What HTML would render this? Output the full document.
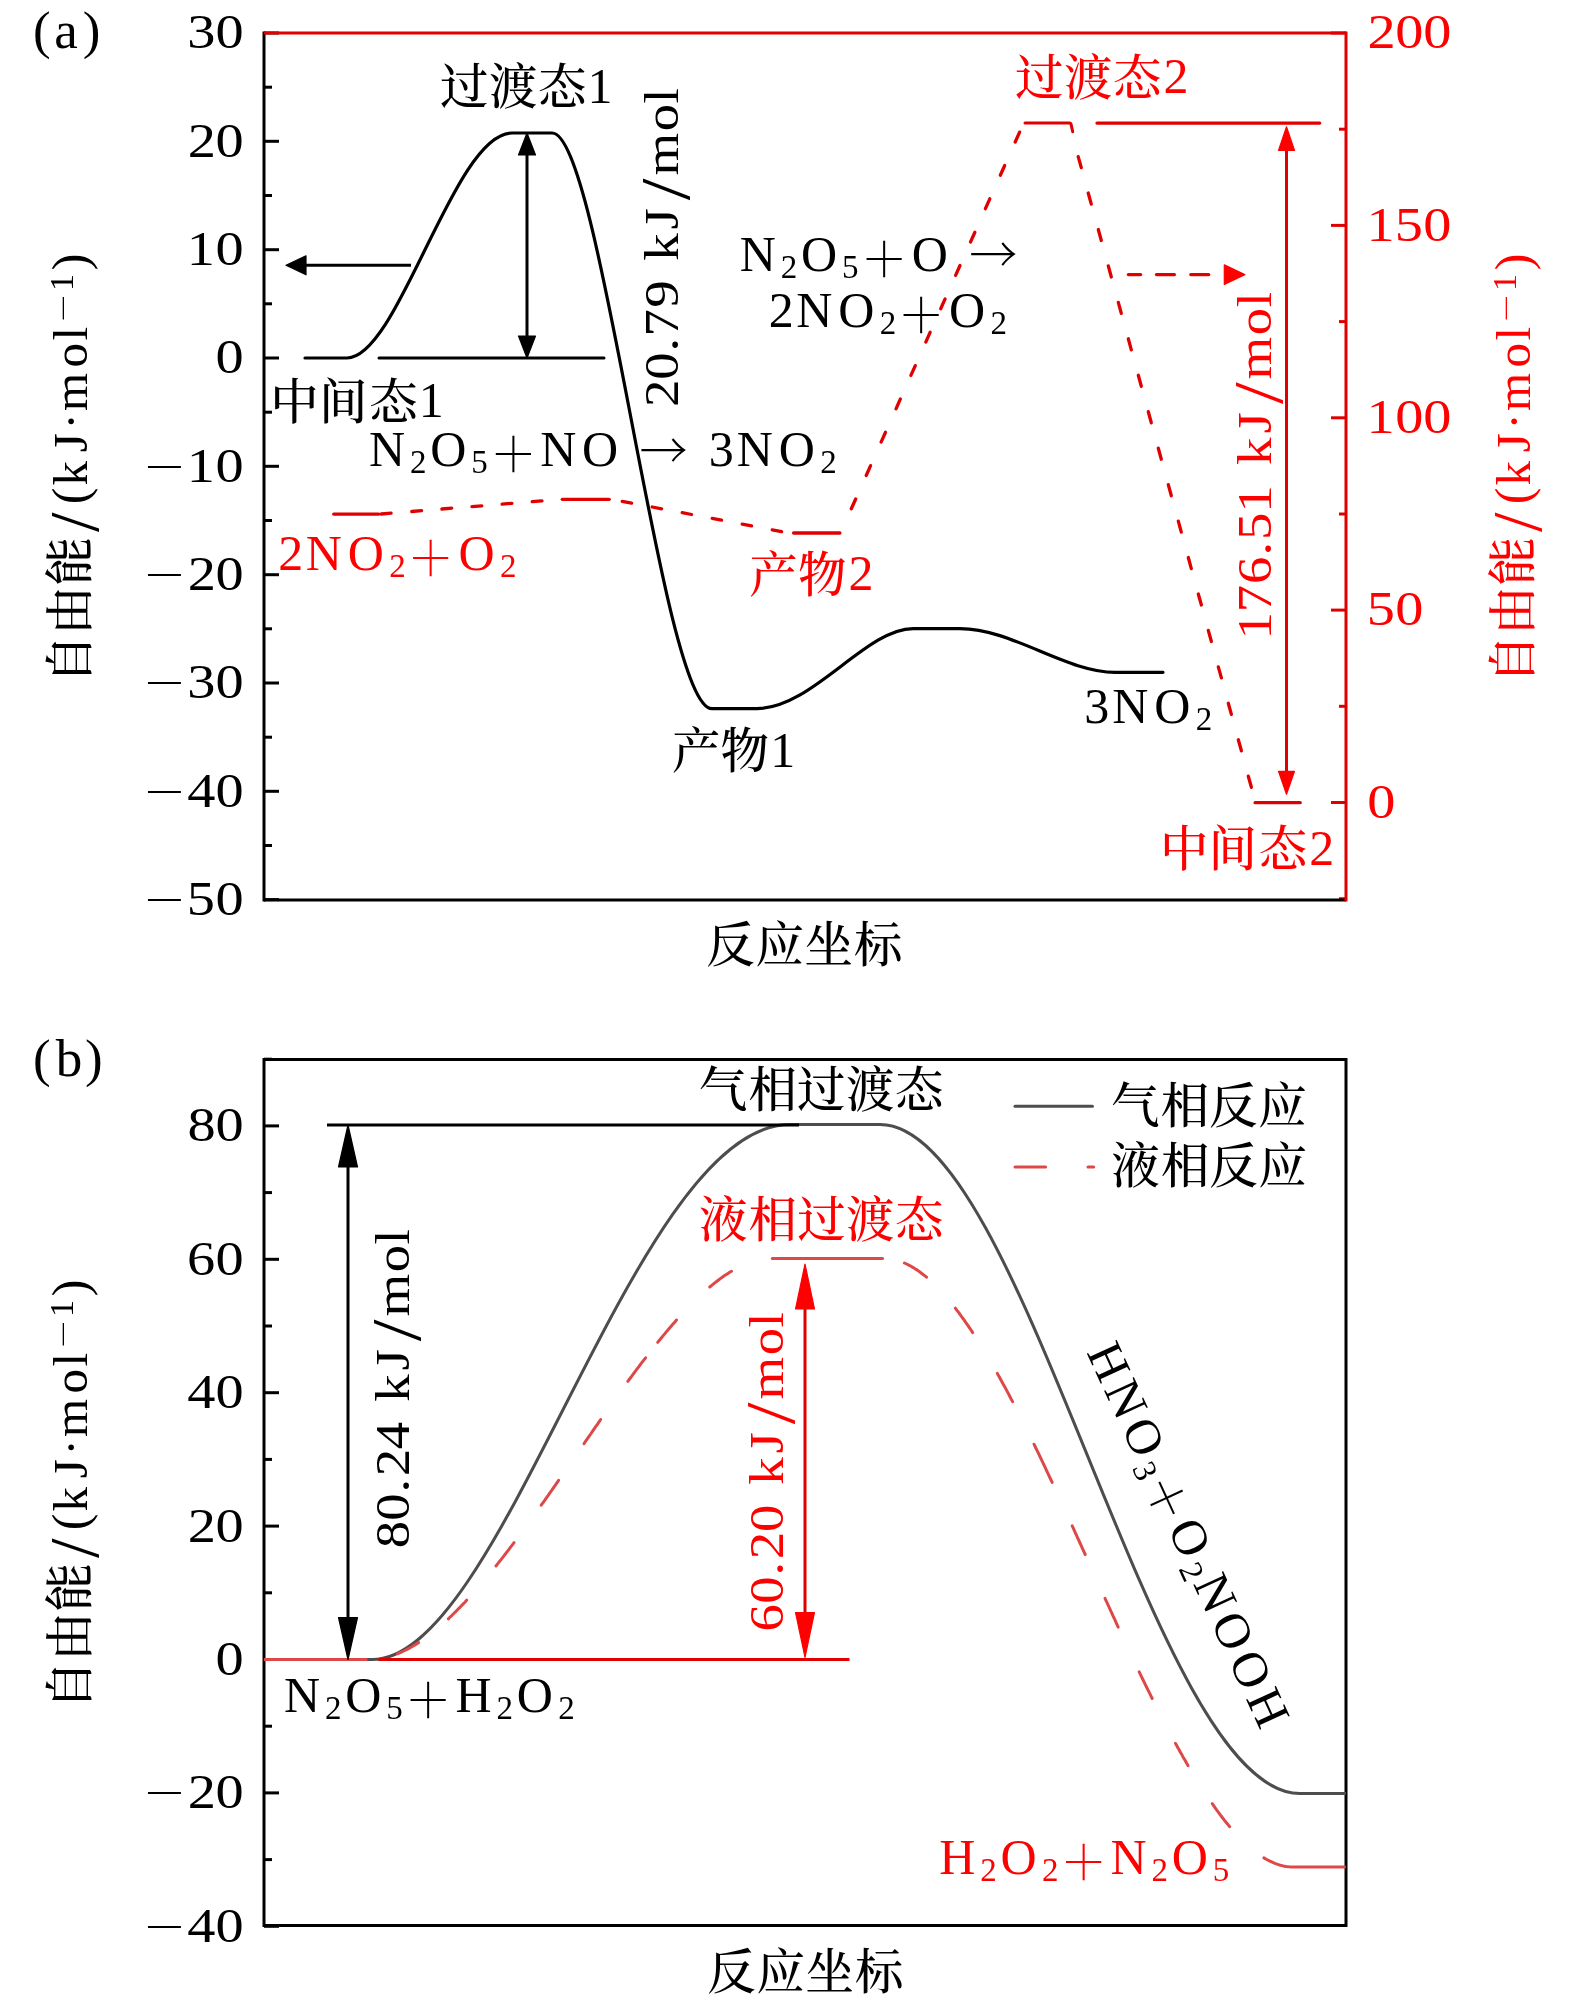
<!DOCTYPE html>
<html><head><meta charset="utf-8"><style>
html,body{margin:0;padding:0;background:#fff;overflow:hidden;}
svg{display:block;will-change:transform;}
</style></head><body>
<svg width="1575" height="2008" viewBox="0 0 1575 2008">
<rect x="0" y="0" width="1575" height="2008" fill="#fff"/>
<line x1="264.0" y1="33.0" x2="279.0" y2="33.0" stroke="#000" stroke-width="3" />
<line x1="264.0" y1="87.2" x2="272.0" y2="87.2" stroke="#000" stroke-width="3" />
<text fill="#000" font-family="'Liberation Serif', 'Noto Serif CJK SC', serif" transform="scale(1.15,1)"><tspan x="162.8" y="48.4" font-size="49">3</tspan><tspan x="187.3" y="48.4" font-size="49">0</tspan></text>
<line x1="264.0" y1="141.3" x2="279.0" y2="141.3" stroke="#000" stroke-width="3" />
<line x1="264.0" y1="195.5" x2="272.0" y2="195.5" stroke="#000" stroke-width="3" />
<text fill="#000" font-family="'Liberation Serif', 'Noto Serif CJK SC', serif" transform="scale(1.15,1)"><tspan x="163.2" y="156.7" font-size="49">2</tspan><tspan x="187.3" y="156.7" font-size="49">0</tspan></text>
<line x1="264.0" y1="249.7" x2="279.0" y2="249.7" stroke="#000" stroke-width="3" />
<line x1="264.0" y1="303.8" x2="272.0" y2="303.8" stroke="#000" stroke-width="3" />
<text fill="#000" font-family="'Liberation Serif', 'Noto Serif CJK SC', serif" transform="scale(1.15,1)"><tspan x="162.3" y="265.1" font-size="49">1</tspan><tspan x="187.3" y="265.1" font-size="49">0</tspan></text>
<line x1="264.0" y1="358.0" x2="279.0" y2="358.0" stroke="#000" stroke-width="3" />
<line x1="264.0" y1="412.2" x2="272.0" y2="412.2" stroke="#000" stroke-width="3" />
<text fill="#000" font-family="'Liberation Serif', 'Noto Serif CJK SC', serif" transform="scale(1.15,1)"><tspan x="187.3" y="373.4" font-size="49">0</tspan></text>
<line x1="264.0" y1="466.3" x2="279.0" y2="466.3" stroke="#000" stroke-width="3" />
<line x1="264.0" y1="520.5" x2="272.0" y2="520.5" stroke="#000" stroke-width="3" />
<text fill="#000" font-family="'Liberation Serif', 'Noto Serif CJK SC', serif" transform="scale(1.15,1)"><tspan x="162.3" y="481.7" font-size="49">1</tspan><tspan x="187.3" y="481.7" font-size="49">0</tspan></text>
<text fill="#000" font-family="'Liberation Serif', 'Noto Serif CJK SC', serif"><tspan x="142.8" y="482.7" font-size="43.4">－</tspan></text>
<line x1="264.0" y1="574.7" x2="279.0" y2="574.7" stroke="#000" stroke-width="3" />
<line x1="264.0" y1="628.8" x2="272.0" y2="628.8" stroke="#000" stroke-width="3" />
<text fill="#000" font-family="'Liberation Serif', 'Noto Serif CJK SC', serif" transform="scale(1.15,1)"><tspan x="163.2" y="590.1" font-size="49">2</tspan><tspan x="187.3" y="590.1" font-size="49">0</tspan></text>
<text fill="#000" font-family="'Liberation Serif', 'Noto Serif CJK SC', serif"><tspan x="142.8" y="591.1" font-size="43.4">－</tspan></text>
<line x1="264.0" y1="683.0" x2="279.0" y2="683.0" stroke="#000" stroke-width="3" />
<line x1="264.0" y1="737.2" x2="272.0" y2="737.2" stroke="#000" stroke-width="3" />
<text fill="#000" font-family="'Liberation Serif', 'Noto Serif CJK SC', serif" transform="scale(1.15,1)"><tspan x="162.8" y="698.4" font-size="49">3</tspan><tspan x="187.3" y="698.4" font-size="49">0</tspan></text>
<text fill="#000" font-family="'Liberation Serif', 'Noto Serif CJK SC', serif"><tspan x="142.8" y="699.4" font-size="43.4">－</tspan></text>
<line x1="264.0" y1="791.3" x2="279.0" y2="791.3" stroke="#000" stroke-width="3" />
<line x1="264.0" y1="845.5" x2="272.0" y2="845.5" stroke="#000" stroke-width="3" />
<text fill="#000" font-family="'Liberation Serif', 'Noto Serif CJK SC', serif" transform="scale(1.15,1)"><tspan x="162.9" y="806.7" font-size="49">4</tspan><tspan x="187.3" y="806.7" font-size="49">0</tspan></text>
<text fill="#000" font-family="'Liberation Serif', 'Noto Serif CJK SC', serif"><tspan x="142.8" y="807.7" font-size="43.4">－</tspan></text>
<line x1="264.0" y1="899.6" x2="279.0" y2="899.6" stroke="#000" stroke-width="3" />
<text fill="#000" font-family="'Liberation Serif', 'Noto Serif CJK SC', serif" transform="scale(1.15,1)"><tspan x="162.5" y="915.0" font-size="49">5</tspan><tspan x="187.3" y="915.0" font-size="49">0</tspan></text>
<text fill="#000" font-family="'Liberation Serif', 'Noto Serif CJK SC', serif"><tspan x="142.8" y="916.0" font-size="43.4">－</tspan></text>
<line x1="1331.0" y1="33.0" x2="1346.0" y2="33.0" stroke="#e00000" stroke-width="3" />
<line x1="1339.0" y1="129.2" x2="1346.0" y2="129.2" stroke="#e00000" stroke-width="3" />
<text fill="#ff0000" font-family="'Liberation Serif', 'Noto Serif CJK SC', serif" transform="scale(1.15,1)"><tspan x="1189.2" y="48.4" font-size="49">2</tspan><tspan x="1213.2" y="48.4" font-size="49">0</tspan><tspan x="1237.6" y="48.4" font-size="49">0</tspan></text>
<line x1="1331.0" y1="225.4" x2="1346.0" y2="225.4" stroke="#e00000" stroke-width="3" />
<line x1="1339.0" y1="321.6" x2="1346.0" y2="321.6" stroke="#e00000" stroke-width="3" />
<text fill="#ff0000" font-family="'Liberation Serif', 'Noto Serif CJK SC', serif" transform="scale(1.15,1)"><tspan x="1188.2" y="240.8" font-size="49">1</tspan><tspan x="1212.8" y="240.8" font-size="49">5</tspan><tspan x="1237.6" y="240.8" font-size="49">0</tspan></text>
<line x1="1331.0" y1="417.8" x2="1346.0" y2="417.8" stroke="#e00000" stroke-width="3" />
<line x1="1339.0" y1="514.0" x2="1346.0" y2="514.0" stroke="#e00000" stroke-width="3" />
<text fill="#ff0000" font-family="'Liberation Serif', 'Noto Serif CJK SC', serif" transform="scale(1.15,1)"><tspan x="1188.2" y="433.1" font-size="49">1</tspan><tspan x="1213.2" y="433.1" font-size="49">0</tspan><tspan x="1237.6" y="433.1" font-size="49">0</tspan></text>
<line x1="1331.0" y1="610.1" x2="1346.0" y2="610.1" stroke="#e00000" stroke-width="3" />
<line x1="1339.0" y1="706.3" x2="1346.0" y2="706.3" stroke="#e00000" stroke-width="3" />
<text fill="#ff0000" font-family="'Liberation Serif', 'Noto Serif CJK SC', serif" transform="scale(1.15,1)"><tspan x="1188.4" y="625.5" font-size="49">5</tspan><tspan x="1213.2" y="625.5" font-size="49">0</tspan></text>
<line x1="1331.0" y1="802.5" x2="1346.0" y2="802.5" stroke="#e00000" stroke-width="3" />
<line x1="1339.0" y1="898.7" x2="1346.0" y2="898.7" stroke="#e00000" stroke-width="3" />
<text fill="#ff0000" font-family="'Liberation Serif', 'Noto Serif CJK SC', serif" transform="scale(1.15,1)"><tspan x="1188.9" y="817.9" font-size="49">0</tspan></text>
<line x1="264.0" y1="900.0" x2="1346.0" y2="900.0" stroke="#000" stroke-width="3" />
<line x1="264.0" y1="31.5" x2="264.0" y2="901.5" stroke="#000" stroke-width="3" />
<line x1="264.0" y1="33.0" x2="1346.0" y2="33.0" stroke="#e00000" stroke-width="3" />
<line x1="1346.0" y1="31.5" x2="1346.0" y2="901.5" stroke="#e00000" stroke-width="3" />
<text fill="#000" font-family="'Liberation Serif', 'Noto Serif CJK SC', serif" transform="translate(87.1,675) rotate(-90) scale(1.0,1)"><tspan x="-8.5" y="0.0" font-size="48.5" font-weight="500">自</tspan><tspan x="40.3" y="0.0" font-size="48.5" font-weight="500">由</tspan><tspan x="89.6" y="0.0" font-size="48.5" font-weight="500">能</tspan><tspan x="143.1" y="11.0" font-size="70">/</tspan><tspan x="170.7" y="0.0" font-size="50">(</tspan><tspan x="189.6" y="0.0" font-size="49">k</tspan><tspan x="222.7" y="0.0" font-size="49">J</tspan><tspan x="245.4" y="0.0" font-size="49">·</tspan><tspan x="263.9" y="0.0" font-size="49">m</tspan><tspan x="307.6" y="0.0" font-size="49">o</tspan><tspan x="334.4" y="0.0" font-size="49">l</tspan><tspan x="351.9" y="-12.7" font-size="29.5">－</tspan><tspan x="384.0" y="-14.2" font-size="34">1</tspan><tspan x="404.7" y="0.0" font-size="50">)</tspan></text>
<text fill="#ff0000" font-family="'Liberation Serif', 'Noto Serif CJK SC', serif" transform="translate(1529.8,675) rotate(-90) scale(1.0,1)"><tspan x="-8.5" y="0.0" font-size="48.5" font-weight="500">自</tspan><tspan x="40.3" y="0.0" font-size="48.5" font-weight="500">由</tspan><tspan x="89.6" y="0.0" font-size="48.5" font-weight="500">能</tspan><tspan x="143.1" y="11.0" font-size="70">/</tspan><tspan x="170.7" y="0.0" font-size="50">(</tspan><tspan x="189.6" y="0.0" font-size="49">k</tspan><tspan x="222.7" y="0.0" font-size="49">J</tspan><tspan x="245.4" y="0.0" font-size="49">·</tspan><tspan x="263.9" y="0.0" font-size="49">m</tspan><tspan x="307.6" y="0.0" font-size="49">o</tspan><tspan x="334.4" y="0.0" font-size="49">l</tspan><tspan x="351.9" y="-12.7" font-size="29.5">－</tspan><tspan x="384.0" y="-14.2" font-size="34">1</tspan><tspan x="404.7" y="0.0" font-size="50">)</tspan></text>
<text fill="#000" font-family="'Liberation Serif', 'Noto Serif CJK SC', serif"><tspan x="33.1" y="48.4" font-size="53">(</tspan><tspan x="54.2" y="48.4" font-size="53">a</tspan><tspan x="82.7" y="48.4" font-size="53">)</tspan></text>
<text fill="#000" font-family="'Liberation Serif', 'Noto Serif CJK SC', serif"><tspan x="706.2" y="961.5" font-size="48.5" font-weight="500">反</tspan><tspan x="755.4" y="961.5" font-size="48.5" font-weight="500">应</tspan><tspan x="804.5" y="961.5" font-size="48.5" font-weight="500">坐</tspan><tspan x="853.9" y="961.5" font-size="48.5" font-weight="500">标</tspan></text>
<path d="M305,358 L347,358 C398.7,358 453.8,133 512,133 L552,133 C601.2,133 661.4,708.6 712,708.6 L757,708.6 C812,708.6 866,628.6 913,628.6 L960,628.6 C1012,628.6 1066,672.3 1115,672.3 L1163,672.3" fill="none" stroke="#000" stroke-width="3.2" stroke-linecap="round" stroke-linejoin="round"/>
<line x1="379.0" y1="358.0" x2="604.0" y2="358.0" stroke="#000" stroke-width="3" stroke-linecap="round"/>
<line x1="300.0" y1="265.3" x2="411.0" y2="265.3" stroke="#000" stroke-width="3" />
<polygon points="286.0,265.3 306.0,255.8 306.0,274.8" fill="#000" stroke="#000" stroke-width="1.2" stroke-linejoin="round"/>
<line x1="527.0" y1="150.0" x2="527.0" y2="340.0" stroke="#000" stroke-width="3" />
<polygon points="527.0,133.0 518.5,155.0 535.5,155.0" fill="#000" stroke="#000" stroke-width="1.2" stroke-linejoin="round"/>
<polygon points="527.0,358.0 518.5,336.0 535.5,336.0" fill="#000" stroke="#000" stroke-width="1.2" stroke-linejoin="round"/>
<line x1="333.7" y1="514.1" x2="378.7" y2="514.1" stroke="#e00000" stroke-width="3.3" stroke-linecap="round"/>
<line x1="381.3" y1="514.0" x2="391.1" y2="513.2" stroke="#e00000" stroke-width="3.3" stroke-linecap="round"/>
<line x1="411.8" y1="511.5" x2="421.6" y2="510.7" stroke="#e00000" stroke-width="3.3" stroke-linecap="round"/>
<line x1="441.9" y1="509.0" x2="451.7" y2="508.2" stroke="#e00000" stroke-width="3.3" stroke-linecap="round"/>
<line x1="472.0" y1="506.6" x2="481.8" y2="505.8" stroke="#e00000" stroke-width="3.3" stroke-linecap="round"/>
<line x1="502.1" y1="504.1" x2="511.9" y2="503.3" stroke="#e00000" stroke-width="3.3" stroke-linecap="round"/>
<line x1="532.2" y1="501.7" x2="542.0" y2="500.8" stroke="#e00000" stroke-width="3.3" stroke-linecap="round"/>
<line x1="562.3" y1="499.3" x2="609.2" y2="499.3" stroke="#e00000" stroke-width="3.3" stroke-linecap="round"/>
<line x1="622.2" y1="501.3" x2="631.6" y2="503.1" stroke="#e00000" stroke-width="3.3" stroke-linecap="round"/>
<line x1="652.2" y1="507.0" x2="661.6" y2="508.8" stroke="#e00000" stroke-width="3.3" stroke-linecap="round"/>
<line x1="682.2" y1="512.7" x2="691.6" y2="514.5" stroke="#e00000" stroke-width="3.3" stroke-linecap="round"/>
<line x1="712.2" y1="518.4" x2="721.6" y2="520.2" stroke="#e00000" stroke-width="3.3" stroke-linecap="round"/>
<line x1="742.2" y1="524.1" x2="751.6" y2="525.9" stroke="#e00000" stroke-width="3.3" stroke-linecap="round"/>
<line x1="772.2" y1="529.8" x2="781.6" y2="531.6" stroke="#e00000" stroke-width="3.3" stroke-linecap="round"/>
<line x1="793.6" y1="533.0" x2="839.9" y2="533.0" stroke="#e00000" stroke-width="3.3" stroke-linecap="round"/>
<line x1="851.3" y1="508.8" x2="855.7" y2="499.0" stroke="#e00000" stroke-width="3.3" stroke-linecap="round"/>
<line x1="866.2" y1="475.5" x2="870.6" y2="465.6" stroke="#e00000" stroke-width="3.3" stroke-linecap="round"/>
<line x1="881.1" y1="442.1" x2="885.5" y2="432.3" stroke="#e00000" stroke-width="3.3" stroke-linecap="round"/>
<line x1="896.0" y1="408.8" x2="900.4" y2="398.9" stroke="#e00000" stroke-width="3.3" stroke-linecap="round"/>
<line x1="910.9" y1="375.4" x2="915.3" y2="365.6" stroke="#e00000" stroke-width="3.3" stroke-linecap="round"/>
<line x1="925.8" y1="342.1" x2="930.2" y2="332.2" stroke="#e00000" stroke-width="3.3" stroke-linecap="round"/>
<line x1="940.7" y1="308.7" x2="945.1" y2="298.9" stroke="#e00000" stroke-width="3.3" stroke-linecap="round"/>
<line x1="955.6" y1="275.4" x2="960.0" y2="265.5" stroke="#e00000" stroke-width="3.3" stroke-linecap="round"/>
<line x1="970.5" y1="242.0" x2="974.9" y2="232.2" stroke="#e00000" stroke-width="3.3" stroke-linecap="round"/>
<line x1="985.4" y1="208.7" x2="989.8" y2="198.8" stroke="#e00000" stroke-width="3.3" stroke-linecap="round"/>
<line x1="1000.3" y1="175.3" x2="1004.7" y2="165.5" stroke="#e00000" stroke-width="3.3" stroke-linecap="round"/>
<line x1="1015.2" y1="142.0" x2="1019.6" y2="132.1" stroke="#e00000" stroke-width="3.3" stroke-linecap="round"/>
<path d="M1025,123.1 L1069.5,123.1 Q1070.8,123.1 1071.2,124.8 L1072.7,131.8" fill="none" stroke="#e00000" stroke-width="3" stroke-linecap="round" stroke-linejoin="round"/>
<line x1="1078.2" y1="156.6" x2="1081.3" y2="167.6" stroke="#e00000" stroke-width="3.3" stroke-linecap="round"/>
<line x1="1088.2" y1="193.0" x2="1091.3" y2="204.1" stroke="#e00000" stroke-width="3.3" stroke-linecap="round"/>
<line x1="1098.3" y1="229.5" x2="1101.3" y2="240.5" stroke="#e00000" stroke-width="3.3" stroke-linecap="round"/>
<line x1="1108.3" y1="265.9" x2="1111.3" y2="277.0" stroke="#e00000" stroke-width="3.3" stroke-linecap="round"/>
<line x1="1118.3" y1="302.4" x2="1121.3" y2="313.4" stroke="#e00000" stroke-width="3.3" stroke-linecap="round"/>
<line x1="1128.3" y1="338.8" x2="1131.3" y2="349.9" stroke="#e00000" stroke-width="3.3" stroke-linecap="round"/>
<line x1="1138.3" y1="375.3" x2="1141.3" y2="386.3" stroke="#e00000" stroke-width="3.3" stroke-linecap="round"/>
<line x1="1148.3" y1="411.7" x2="1151.3" y2="422.8" stroke="#e00000" stroke-width="3.3" stroke-linecap="round"/>
<line x1="1158.3" y1="448.2" x2="1161.3" y2="459.2" stroke="#e00000" stroke-width="3.3" stroke-linecap="round"/>
<line x1="1168.3" y1="484.6" x2="1171.3" y2="495.7" stroke="#e00000" stroke-width="3.3" stroke-linecap="round"/>
<line x1="1178.3" y1="521.1" x2="1181.3" y2="532.1" stroke="#e00000" stroke-width="3.3" stroke-linecap="round"/>
<line x1="1188.3" y1="557.5" x2="1191.3" y2="568.6" stroke="#e00000" stroke-width="3.3" stroke-linecap="round"/>
<line x1="1198.3" y1="594.0" x2="1201.4" y2="605.0" stroke="#e00000" stroke-width="3.3" stroke-linecap="round"/>
<line x1="1208.3" y1="630.4" x2="1211.4" y2="641.5" stroke="#e00000" stroke-width="3.3" stroke-linecap="round"/>
<line x1="1218.3" y1="666.9" x2="1221.4" y2="677.9" stroke="#e00000" stroke-width="3.3" stroke-linecap="round"/>
<line x1="1228.3" y1="703.3" x2="1231.4" y2="714.4" stroke="#e00000" stroke-width="3.3" stroke-linecap="round"/>
<line x1="1238.3" y1="739.8" x2="1241.4" y2="750.8" stroke="#e00000" stroke-width="3.3" stroke-linecap="round"/>
<line x1="1248.3" y1="776.2" x2="1251.4" y2="787.3" stroke="#e00000" stroke-width="3.3" stroke-linecap="round"/>
<line x1="1255.1" y1="802.7" x2="1300.2" y2="802.7" stroke="#e00000" stroke-width="3.3" stroke-linecap="round"/>
<line x1="1097.0" y1="123.1" x2="1319.7" y2="123.1" stroke="#e00000" stroke-width="3.3" stroke-linecap="round"/>
<line x1="1286.5" y1="145.0" x2="1286.5" y2="775.0" stroke="#e00000" stroke-width="3" />
<polygon points="1286.5,126.8 1278.5,150.4 1294.5,150.4" fill="#ff0000" stroke="#ff0000" stroke-width="1.2" stroke-linejoin="round"/>
<polygon points="1286.5,794.2 1278.5,771.4 1294.5,771.4" fill="#ff0000" stroke="#ff0000" stroke-width="1.2" stroke-linejoin="round"/>
<line x1="1128.4" y1="274.6" x2="1140.6" y2="274.6" stroke="#e00000" stroke-width="3.3" stroke-linecap="round"/>
<line x1="1156.5" y1="274.6" x2="1174.4" y2="274.6" stroke="#e00000" stroke-width="3.3" stroke-linecap="round"/>
<line x1="1190.8" y1="274.6" x2="1208.7" y2="274.6" stroke="#e00000" stroke-width="3.3" stroke-linecap="round"/>
<polygon points="1244.8,274.6 1224.3,264.9 1224.3,284.4" fill="#ff0000" stroke="#ff0000" stroke-width="1.2" stroke-linejoin="round"/>
<text fill="#000" font-family="'Liberation Serif', 'Noto Serif CJK SC', serif"><tspan x="440.1" y="104.1" font-size="48.5" font-weight="500">过</tspan><tspan x="488.9" y="104.1" font-size="48.5" font-weight="500">渡</tspan><tspan x="537.9" y="104.1" font-size="48.5" font-weight="500">态</tspan><tspan x="587.4" y="102.6" font-size="50">1</tspan></text>
<text fill="#000" font-family="'Liberation Serif', 'Noto Serif CJK SC', serif"><tspan x="270.3" y="418.5" font-size="48.5" font-weight="500">中</tspan><tspan x="319.0" y="418.5" font-size="48.5" font-weight="500">间</tspan><tspan x="369.2" y="418.5" font-size="48.5" font-weight="500">态</tspan><tspan x="418.7" y="417.0" font-size="50">1</tspan></text>
<text fill="#ff0000" font-family="'Liberation Serif', 'Noto Serif CJK SC', serif"><tspan x="1015.1" y="94.8" font-size="48.5" font-weight="500">过</tspan><tspan x="1063.9" y="94.8" font-size="48.5" font-weight="500">渡</tspan><tspan x="1112.9" y="94.8" font-size="48.5" font-weight="500">态</tspan><tspan x="1163.4" y="93.3" font-size="50">2</tspan></text>
<text fill="#ff0000" font-family="'Liberation Serif', 'Noto Serif CJK SC', serif"><tspan x="1159.9" y="866.0" font-size="48.5" font-weight="500">中</tspan><tspan x="1208.6" y="866.0" font-size="48.5" font-weight="500">间</tspan><tspan x="1258.8" y="866.0" font-size="48.5" font-weight="500">态</tspan><tspan x="1309.3" y="864.5" font-size="50">2</tspan></text>
<text fill="#ff0000" font-family="'Liberation Serif', 'Noto Serif CJK SC', serif"><tspan x="749.3" y="591.5" font-size="48.5" font-weight="500">产</tspan><tspan x="798.0" y="591.5" font-size="48.5" font-weight="500">物</tspan><tspan x="848.6" y="590.0" font-size="50">2</tspan></text>
<text fill="#000" font-family="'Liberation Serif', 'Noto Serif CJK SC', serif"><tspan x="671.9" y="768.0" font-size="48.5" font-weight="500">产</tspan><tspan x="720.6" y="768.0" font-size="48.5" font-weight="500">物</tspan><tspan x="770.3" y="766.5" font-size="50">1</tspan></text>
<text fill="#000" font-family="'Liberation Serif', 'Noto Serif CJK SC', serif" transform="translate(678.2,405) rotate(-90) scale(1.12,1)"><tspan x="-1.7" y="0.0" font-size="49">2</tspan><tspan x="22.6" y="0.0" font-size="49">0</tspan><tspan x="47.8" y="0.0" font-size="49">.</tspan><tspan x="61.2" y="0.0" font-size="49">7</tspan><tspan x="86.8" y="0.0" font-size="49">9</tspan><tspan x="128.7" y="0.0" font-size="49">k</tspan><tspan x="156.7" y="0.0" font-size="49">J</tspan><tspan x="182.9" y="11.0" font-size="70">/</tspan><tspan x="204.9" y="0.0" font-size="49">m</tspan><tspan x="244.4" y="0.0" font-size="49">o</tspan><tspan x="269.3" y="0.0" font-size="49">l</tspan></text>
<text fill="#ff0000" font-family="'Liberation Serif', 'Noto Serif CJK SC', serif" transform="translate(1271,636.5) rotate(-90) scale(1.12,1)"><tspan x="-2.6" y="0.0" font-size="49">1</tspan><tspan x="21.7" y="0.0" font-size="49">7</tspan><tspan x="46.8" y="0.0" font-size="49">6</tspan><tspan x="72.4" y="0.0" font-size="49">.</tspan><tspan x="86.2" y="0.0" font-size="49">5</tspan><tspan x="110.5" y="0.0" font-size="49">1</tspan><tspan x="153.2" y="0.0" font-size="49">k</tspan><tspan x="181.2" y="0.0" font-size="49">J</tspan><tspan x="207.5" y="11.0" font-size="70">/</tspan><tspan x="229.4" y="0.0" font-size="49">m</tspan><tspan x="269.0" y="0.0" font-size="49">o</tspan><tspan x="293.9" y="0.0" font-size="49">l</tspan></text>
<text fill="#000" font-family="'Liberation Serif', 'Noto Serif CJK SC', serif"><tspan x="369.1" y="466.0" font-size="50">N</tspan><tspan x="410.0" y="473.0" font-size="33">2</tspan><tspan x="430.3" y="466.0" font-size="50">O</tspan><tspan x="471.3" y="473.0" font-size="33">5</tspan><tspan x="490.2" y="471.0" font-size="46.3">＋</tspan><tspan x="540.2" y="466.0" font-size="50">N</tspan><tspan x="582.1" y="466.0" font-size="50">O</tspan><tspan x="639.6" y="467.7" font-size="48" font-family="'Noto Serif CJK SC', serif">→</tspan><tspan x="708.8" y="466.0" font-size="50">3</tspan><tspan x="736.8" y="466.0" font-size="50">N</tspan><tspan x="778.7" y="466.0" font-size="50">O</tspan><tspan x="820.2" y="473.0" font-size="33">2</tspan></text>
<text fill="#ff0000" font-family="'Liberation Serif', 'Noto Serif CJK SC', serif"><tspan x="278.3" y="570.0" font-size="50">2</tspan><tspan x="305.8" y="570.0" font-size="50">N</tspan><tspan x="347.7" y="570.0" font-size="50">O</tspan><tspan x="389.2" y="577.0" font-size="33">2</tspan><tspan x="407.6" y="575.0" font-size="46.3">＋</tspan><tspan x="458.5" y="570.0" font-size="50">O</tspan><tspan x="500.0" y="577.0" font-size="33">2</tspan></text>
<text fill="#000" font-family="'Liberation Serif', 'Noto Serif CJK SC', serif"><tspan x="1084.3" y="723.0" font-size="50">3</tspan><tspan x="1112.3" y="723.0" font-size="50">N</tspan><tspan x="1154.2" y="723.0" font-size="50">O</tspan><tspan x="1195.7" y="730.0" font-size="33">2</tspan></text>
<text fill="#000" font-family="'Liberation Serif', 'Noto Serif CJK SC', serif"><tspan x="739.8" y="270.7" font-size="50">N</tspan><tspan x="780.7" y="277.7" font-size="33">2</tspan><tspan x="801.0" y="270.7" font-size="50">O</tspan><tspan x="842.0" y="277.7" font-size="33">5</tspan><tspan x="860.9" y="275.7" font-size="46.3">＋</tspan><tspan x="911.8" y="270.7" font-size="50">O</tspan><tspan x="969.3" y="272.4" font-size="48" font-family="'Noto Serif CJK SC', serif">→</tspan></text>
<text fill="#000" font-family="'Liberation Serif', 'Noto Serif CJK SC', serif"><tspan x="768.8" y="326.9" font-size="50">2</tspan><tspan x="796.3" y="326.9" font-size="50">N</tspan><tspan x="838.2" y="326.9" font-size="50">O</tspan><tspan x="879.7" y="333.9" font-size="33">2</tspan><tspan x="898.1" y="331.9" font-size="46.3">＋</tspan><tspan x="949.0" y="326.9" font-size="50">O</tspan><tspan x="990.5" y="333.9" font-size="33">2</tspan></text>
<line x1="264.0" y1="1125.9" x2="279.0" y2="1125.9" stroke="#000" stroke-width="3" />
<line x1="264.0" y1="1059.2" x2="272.0" y2="1059.2" stroke="#000" stroke-width="3" />
<text fill="#000" font-family="'Liberation Serif', 'Noto Serif CJK SC', serif" transform="scale(1.15,1)"><tspan x="163.0" y="1141.3" font-size="49">8</tspan><tspan x="187.3" y="1141.3" font-size="49">0</tspan></text>
<line x1="264.0" y1="1259.3" x2="279.0" y2="1259.3" stroke="#000" stroke-width="3" />
<line x1="264.0" y1="1192.6" x2="272.0" y2="1192.6" stroke="#000" stroke-width="3" />
<text fill="#000" font-family="'Liberation Serif', 'Noto Serif CJK SC', serif" transform="scale(1.15,1)"><tspan x="162.6" y="1274.7" font-size="49">6</tspan><tspan x="187.3" y="1274.7" font-size="49">0</tspan></text>
<line x1="264.0" y1="1392.7" x2="279.0" y2="1392.7" stroke="#000" stroke-width="3" />
<line x1="264.0" y1="1326.0" x2="272.0" y2="1326.0" stroke="#000" stroke-width="3" />
<text fill="#000" font-family="'Liberation Serif', 'Noto Serif CJK SC', serif" transform="scale(1.15,1)"><tspan x="162.9" y="1408.1" font-size="49">4</tspan><tspan x="187.3" y="1408.1" font-size="49">0</tspan></text>
<line x1="264.0" y1="1526.1" x2="279.0" y2="1526.1" stroke="#000" stroke-width="3" />
<line x1="264.0" y1="1459.4" x2="272.0" y2="1459.4" stroke="#000" stroke-width="3" />
<text fill="#000" font-family="'Liberation Serif', 'Noto Serif CJK SC', serif" transform="scale(1.15,1)"><tspan x="163.2" y="1541.5" font-size="49">2</tspan><tspan x="187.3" y="1541.5" font-size="49">0</tspan></text>
<line x1="264.0" y1="1659.5" x2="279.0" y2="1659.5" stroke="#000" stroke-width="3" />
<line x1="264.0" y1="1592.8" x2="272.0" y2="1592.8" stroke="#000" stroke-width="3" />
<text fill="#000" font-family="'Liberation Serif', 'Noto Serif CJK SC', serif" transform="scale(1.15,1)"><tspan x="187.3" y="1674.9" font-size="49">0</tspan></text>
<line x1="264.0" y1="1792.9" x2="279.0" y2="1792.9" stroke="#000" stroke-width="3" />
<line x1="264.0" y1="1726.2" x2="272.0" y2="1726.2" stroke="#000" stroke-width="3" />
<text fill="#000" font-family="'Liberation Serif', 'Noto Serif CJK SC', serif" transform="scale(1.15,1)"><tspan x="163.2" y="1808.3" font-size="49">2</tspan><tspan x="187.3" y="1808.3" font-size="49">0</tspan></text>
<text fill="#000" font-family="'Liberation Serif', 'Noto Serif CJK SC', serif"><tspan x="142.8" y="1809.3" font-size="43.4">－</tspan></text>
<line x1="264.0" y1="1926.3" x2="279.0" y2="1926.3" stroke="#000" stroke-width="3" />
<line x1="264.0" y1="1859.6" x2="272.0" y2="1859.6" stroke="#000" stroke-width="3" />
<text fill="#000" font-family="'Liberation Serif', 'Noto Serif CJK SC', serif" transform="scale(1.15,1)"><tspan x="162.9" y="1941.7" font-size="49">4</tspan><tspan x="187.3" y="1941.7" font-size="49">0</tspan></text>
<text fill="#000" font-family="'Liberation Serif', 'Noto Serif CJK SC', serif"><tspan x="142.8" y="1942.7" font-size="43.4">－</tspan></text>
<line x1="264.0" y1="1059.5" x2="1346.0" y2="1059.5" stroke="#000" stroke-width="3" />
<line x1="264.0" y1="1925.5" x2="1346.0" y2="1925.5" stroke="#000" stroke-width="3" />
<line x1="264.0" y1="1058.0" x2="264.0" y2="1927.0" stroke="#000" stroke-width="3" />
<line x1="1346.0" y1="1058.0" x2="1346.0" y2="1927.0" stroke="#000" stroke-width="3" />
<text fill="#000" font-family="'Liberation Serif', 'Noto Serif CJK SC', serif" transform="translate(87.1,1701) rotate(-90) scale(1.0,1)"><tspan x="-8.5" y="0.0" font-size="48.5" font-weight="500">自</tspan><tspan x="40.3" y="0.0" font-size="48.5" font-weight="500">由</tspan><tspan x="89.6" y="0.0" font-size="48.5" font-weight="500">能</tspan><tspan x="143.1" y="11.0" font-size="70">/</tspan><tspan x="170.7" y="0.0" font-size="50">(</tspan><tspan x="189.6" y="0.0" font-size="49">k</tspan><tspan x="222.7" y="0.0" font-size="49">J</tspan><tspan x="245.4" y="0.0" font-size="49">·</tspan><tspan x="263.9" y="0.0" font-size="49">m</tspan><tspan x="307.6" y="0.0" font-size="49">o</tspan><tspan x="334.4" y="0.0" font-size="49">l</tspan><tspan x="351.9" y="-12.7" font-size="29.5">－</tspan><tspan x="384.0" y="-14.2" font-size="34">1</tspan><tspan x="404.7" y="0.0" font-size="50">)</tspan></text>
<text fill="#000" font-family="'Liberation Serif', 'Noto Serif CJK SC', serif"><tspan x="33.1" y="1075.5" font-size="53">(</tspan><tspan x="55.8" y="1075.5" font-size="53">b</tspan><tspan x="85.0" y="1075.5" font-size="53">)</tspan></text>
<text fill="#000" font-family="'Liberation Serif', 'Noto Serif CJK SC', serif"><tspan x="707.2" y="1988.5" font-size="48.5" font-weight="500">反</tspan><tspan x="756.4" y="1988.5" font-size="48.5" font-weight="500">应</tspan><tspan x="805.5" y="1988.5" font-size="48.5" font-weight="500">坐</tspan><tspan x="854.9" y="1988.5" font-size="48.5" font-weight="500">标</tspan></text>
<line x1="1015.0" y1="1106.3" x2="1092.4" y2="1106.3" stroke="#4d4d4d" stroke-width="3" stroke-linecap="round"/>
<line x1="1015.0" y1="1167.0" x2="1045.6" y2="1167.0" stroke="#de4848" stroke-width="3" stroke-linecap="round"/>
<line x1="1088.0" y1="1167.0" x2="1093.7" y2="1167.0" stroke="#de4848" stroke-width="3" stroke-linecap="round"/>
<text fill="#000" font-family="'Liberation Serif', 'Noto Serif CJK SC', serif"><tspan x="1111.1" y="1123.0" font-size="48.5" font-weight="500">气</tspan><tspan x="1160.8" y="1123.0" font-size="48.5" font-weight="500">相</tspan><tspan x="1209.0" y="1123.0" font-size="48.5" font-weight="500">反</tspan><tspan x="1258.3" y="1123.0" font-size="48.5" font-weight="500">应</tspan></text>
<text fill="#000" font-family="'Liberation Serif', 'Noto Serif CJK SC', serif"><tspan x="1111.3" y="1183.0" font-size="48.5" font-weight="500">液</tspan><tspan x="1161.0" y="1183.0" font-size="48.5" font-weight="500">相</tspan><tspan x="1209.2" y="1183.0" font-size="48.5" font-weight="500">反</tspan><tspan x="1258.4" y="1183.0" font-size="48.5" font-weight="500">应</tspan></text>
<path d="M264,1659.5 L372,1659.5 C505.3,1659.5 632.8,1124.5 790,1124.5 L880,1124.5 C1025.9,1124.5 1151,1793.5 1300,1793.5 L1346,1793.5" fill="none" stroke="#4d4d4d" stroke-width="3" />
<path d="M397.5,1653.8 L399.6,1652.9 L401.7,1652.0 L403.8,1651.0 L405.9,1650.0 L408.0,1648.9 L410.2,1647.7 L412.3,1646.5 L414.4,1645.2 L416.6,1643.9 L418.7,1642.5" fill="none" stroke="#de4848" stroke-width="3" stroke-linecap="round" stroke-linejoin="round"/>
<path d="M448.3,1618.8 L450.2,1617.0 L452.0,1615.3 L453.8,1613.5 L455.7,1611.7 L457.5,1609.8 L459.4,1607.9 L461.2,1606.0 L463.0,1604.1 L464.9,1602.2 L466.7,1600.2" fill="none" stroke="#de4848" stroke-width="3" stroke-linecap="round" stroke-linejoin="round"/>
<path d="M496.0,1566.0 L497.8,1563.7 L499.6,1561.4 L501.4,1559.1 L503.2,1556.8 L505.0,1554.5 L506.8,1552.2 L508.6,1549.8 L510.4,1547.4 L512.2,1545.1 L514.0,1542.7" fill="none" stroke="#de4848" stroke-width="3" stroke-linecap="round" stroke-linejoin="round"/>
<path d="M541.2,1505.2 L542.9,1502.8 L544.7,1500.3 L546.4,1497.8 L548.2,1495.3 L549.9,1492.8 L551.7,1490.3 L553.4,1487.8 L555.2,1485.3 L556.9,1482.8 L558.6,1480.3" fill="none" stroke="#de4848" stroke-width="3" stroke-linecap="round" stroke-linejoin="round"/>
<path d="M584.0,1443.7 L585.6,1441.2 L587.3,1438.8 L589.0,1436.4 L590.7,1434.0 L592.3,1431.6 L594.0,1429.1 L595.7,1426.7 L597.4,1424.3 L599.0,1421.9 L600.7,1419.5" fill="none" stroke="#de4848" stroke-width="3" stroke-linecap="round" stroke-linejoin="round"/>
<path d="M627.8,1381.4 L629.6,1379.0 L631.4,1376.6 L633.2,1374.2 L634.9,1371.8 L636.7,1369.4 L638.5,1367.1 L640.3,1364.7 L642.0,1362.4 L643.8,1360.1 L645.6,1357.8" fill="none" stroke="#de4848" stroke-width="3" stroke-linecap="round" stroke-linejoin="round"/>
<path d="M657.7,1342.4 L659.6,1340.0 L661.5,1337.7 L663.4,1335.4 L665.3,1333.1 L667.1,1330.9 L669.0,1328.7 L670.9,1326.5 L672.8,1324.3 L674.7,1322.2 L676.5,1320.0" fill="none" stroke="#de4848" stroke-width="3" stroke-linecap="round" stroke-linejoin="round"/>
<path d="M709.8,1287.0 L712.0,1285.2 L714.2,1283.4 L716.3,1281.7 L718.5,1280.0 L720.7,1278.4 L722.9,1276.8 L725.0,1275.3 L727.2,1273.9 L729.3,1272.5 L731.5,1271.2" fill="none" stroke="#de4848" stroke-width="3" stroke-linecap="round" stroke-linejoin="round"/>
<path d="M904.4,1263.0 L906.6,1264.0 L908.8,1265.1 L911.0,1266.3 L913.2,1267.6 L915.4,1269.0 L917.7,1270.4 L919.9,1272.0 L922.1,1273.7 L924.3,1275.4 L926.5,1277.2" fill="none" stroke="#de4848" stroke-width="3" stroke-linecap="round" stroke-linejoin="round"/>
<path d="M955.3,1308.1 L957.0,1310.4 L958.8,1312.7 L960.5,1315.1 L962.2,1317.5 L964.0,1319.9 L965.7,1322.4 L967.5,1324.9 L969.2,1327.4 L971.0,1330.0 L972.7,1332.6" fill="none" stroke="#de4848" stroke-width="3" stroke-linecap="round" stroke-linejoin="round"/>
<path d="M997.3,1373.4 L998.9,1376.2 L1000.4,1378.9 L1001.9,1381.7 L1003.4,1384.5 L1005.0,1387.3 L1006.5,1390.1 L1008.0,1392.9 L1009.5,1395.8 L1011.0,1398.7 L1012.6,1401.6" fill="none" stroke="#de4848" stroke-width="3" stroke-linecap="round" stroke-linejoin="round"/>
<path d="M1034.0,1444.2 L1035.8,1448.0 L1037.6,1451.7 L1039.5,1455.5 L1041.3,1459.3 L1043.1,1463.1 L1044.9,1466.9 L1046.7,1470.8 L1048.5,1474.6 L1050.3,1478.5 L1052.2,1482.4" fill="none" stroke="#de4848" stroke-width="3" stroke-linecap="round" stroke-linejoin="round"/>
<path d="M1072.2,1525.9 L1073.5,1528.7 L1074.8,1531.6 L1076.1,1534.4 L1077.4,1537.3 L1078.7,1540.2 L1080.0,1543.0 L1081.3,1545.9 L1082.6,1548.8 L1083.9,1551.7 L1085.2,1554.5" fill="none" stroke="#de4848" stroke-width="3" stroke-linecap="round" stroke-linejoin="round"/>
<path d="M1105.0,1598.3 L1106.3,1601.2 L1107.7,1604.1 L1109.0,1607.0 L1110.3,1609.9 L1111.6,1612.7 L1112.9,1615.6 L1114.3,1618.5 L1115.6,1621.4 L1116.9,1624.3 L1118.2,1627.1" fill="none" stroke="#de4848" stroke-width="3" stroke-linecap="round" stroke-linejoin="round"/>
<path d="M1139.2,1671.9 L1140.5,1674.6 L1141.8,1677.3 L1143.1,1680.0 L1144.4,1682.6 L1145.7,1685.3 L1147.0,1688.0 L1148.3,1690.6 L1149.6,1693.2 L1150.9,1695.8 L1152.2,1698.5" fill="none" stroke="#de4848" stroke-width="3" stroke-linecap="round" stroke-linejoin="round"/>
<path d="M1175.4,1743.2 L1176.7,1745.5 L1177.9,1747.8 L1179.2,1750.1 L1180.5,1752.4 L1181.8,1754.6 L1183.0,1756.9 L1184.3,1759.1 L1185.6,1761.3 L1186.8,1763.5 L1188.1,1765.7" fill="none" stroke="#de4848" stroke-width="3" stroke-linecap="round" stroke-linejoin="round"/>
<path d="M1212.2,1803.7 L1214.0,1806.2 L1215.7,1808.7 L1217.5,1811.1 L1219.2,1813.4 L1221.0,1815.8 L1222.7,1818.0 L1224.5,1820.3 L1226.2,1822.5 L1228.0,1824.6 L1229.7,1826.7" fill="none" stroke="#de4848" stroke-width="3" stroke-linecap="round" stroke-linejoin="round"/>
<path d="M1263.9,1857.9 L1266.7,1859.5 L1269.4,1860.9 L1272.2,1862.2 L1274.9,1863.4 L1277.7,1864.4 L1280.4,1865.2 L1283.2,1865.9 L1285.9,1866.4 L1288.7,1866.8 L1291.4,1867.0 L1344.5,1867.0" fill="none" stroke="#de4848" stroke-width="3" stroke-linecap="round" stroke-linejoin="round"/>
<line x1="264.0" y1="1659.5" x2="367.5" y2="1659.5" stroke="#de4848" stroke-width="3" />
<line x1="772.3" y1="1258.5" x2="882.5" y2="1258.5" stroke="#de4848" stroke-width="3" stroke-linecap="round"/>
<line x1="327.0" y1="1125.0" x2="799.0" y2="1125.0" stroke="#000" stroke-width="3" />
<line x1="378.4" y1="1659.5" x2="849.5" y2="1659.5" stroke="#e00000" stroke-width="3" />
<line x1="348.0" y1="1160.0" x2="348.0" y2="1625.0" stroke="#000" stroke-width="3" />
<polygon points="348.0,1125.0 338.5,1167.0 357.5,1167.0" fill="#000" stroke="#000" stroke-width="1.2" stroke-linejoin="round"/>
<polygon points="348.0,1659.5 338.5,1617.5 357.5,1617.5" fill="#000" stroke="#000" stroke-width="1.2" stroke-linejoin="round"/>
<line x1="805.0" y1="1300.0" x2="805.0" y2="1620.0" stroke="#e00000" stroke-width="3" />
<polygon points="805.0,1264.0 795.5,1309.0 814.5,1309.0" fill="#ff0000" stroke="#ff0000" stroke-width="1.2" stroke-linejoin="round"/>
<polygon points="805.0,1657.5 795.5,1612.5 814.5,1612.5" fill="#ff0000" stroke="#ff0000" stroke-width="1.2" stroke-linejoin="round"/>
<text fill="#000" font-family="'Liberation Serif', 'Noto Serif CJK SC', serif"><tspan x="698.7" y="1106.5" font-size="48.5" font-weight="500">气</tspan><tspan x="748.4" y="1106.5" font-size="48.5" font-weight="500">相</tspan><tspan x="797.1" y="1106.5" font-size="48.5" font-weight="500">过</tspan><tspan x="845.9" y="1106.5" font-size="48.5" font-weight="500">渡</tspan><tspan x="894.9" y="1106.5" font-size="48.5" font-weight="500">态</tspan></text>
<text fill="#ff0000" font-family="'Liberation Serif', 'Noto Serif CJK SC', serif"><tspan x="698.9" y="1237.0" font-size="48.5" font-weight="500">液</tspan><tspan x="748.6" y="1237.0" font-size="48.5" font-weight="500">相</tspan><tspan x="797.3" y="1237.0" font-size="48.5" font-weight="500">过</tspan><tspan x="846.0" y="1237.0" font-size="48.5" font-weight="500">渡</tspan><tspan x="895.1" y="1237.0" font-size="48.5" font-weight="500">态</tspan></text>
<text fill="#000" font-family="'Liberation Serif', 'Noto Serif CJK SC', serif" transform="translate(409,1546) rotate(-90) scale(1.12,1)"><tspan x="-1.9" y="0.0" font-size="49">8</tspan><tspan x="22.6" y="0.0" font-size="49">0</tspan><tspan x="47.8" y="0.0" font-size="49">.</tspan><tspan x="62.4" y="0.0" font-size="49">2</tspan><tspan x="86.5" y="0.0" font-size="49">4</tspan><tspan x="128.7" y="0.0" font-size="49">k</tspan><tspan x="156.7" y="0.0" font-size="49">J</tspan><tspan x="182.9" y="11.0" font-size="70">/</tspan><tspan x="204.9" y="0.0" font-size="49">m</tspan><tspan x="244.4" y="0.0" font-size="49">o</tspan><tspan x="269.3" y="0.0" font-size="49">l</tspan></text>
<text fill="#ff0000" font-family="'Liberation Serif', 'Noto Serif CJK SC', serif" transform="translate(783,1629) rotate(-90) scale(1.12,1)"><tspan x="-2.3" y="0.0" font-size="49">6</tspan><tspan x="22.6" y="0.0" font-size="49">0</tspan><tspan x="47.8" y="0.0" font-size="49">.</tspan><tspan x="62.4" y="0.0" font-size="49">2</tspan><tspan x="86.6" y="0.0" font-size="49">0</tspan><tspan x="128.7" y="0.0" font-size="49">k</tspan><tspan x="156.7" y="0.0" font-size="49">J</tspan><tspan x="182.9" y="11.0" font-size="70">/</tspan><tspan x="204.9" y="0.0" font-size="49">m</tspan><tspan x="244.4" y="0.0" font-size="49">o</tspan><tspan x="269.3" y="0.0" font-size="49">l</tspan></text>
<text fill="#000" font-family="'Liberation Serif', 'Noto Serif CJK SC', serif"><tspan x="284.0" y="1712.0" font-size="50">N</tspan><tspan x="324.9" y="1719.0" font-size="33">2</tspan><tspan x="345.2" y="1712.0" font-size="50">O</tspan><tspan x="386.2" y="1719.0" font-size="33">5</tspan><tspan x="405.1" y="1717.0" font-size="46.3">＋</tspan><tspan x="455.5" y="1712.0" font-size="50">H</tspan><tspan x="496.5" y="1719.0" font-size="33">2</tspan><tspan x="516.8" y="1712.0" font-size="50">O</tspan><tspan x="558.3" y="1719.0" font-size="33">2</tspan></text>
<text fill="#ff0000" font-family="'Liberation Serif', 'Noto Serif CJK SC', serif"><tspan x="939.3" y="1874.3" font-size="50">H</tspan><tspan x="980.3" y="1881.3" font-size="33">2</tspan><tspan x="1000.6" y="1874.3" font-size="50">O</tspan><tspan x="1042.1" y="1881.3" font-size="33">2</tspan><tspan x="1060.4" y="1879.3" font-size="46.3">＋</tspan><tspan x="1110.5" y="1874.3" font-size="50">N</tspan><tspan x="1151.4" y="1881.3" font-size="33">2</tspan><tspan x="1171.7" y="1874.3" font-size="50">O</tspan><tspan x="1212.7" y="1881.3" font-size="33">5</tspan></text>
<text fill="#000" font-family="'Liberation Serif', 'Noto Serif CJK SC', serif" transform="translate(1086.4,1352.4) rotate(65.3)"><tspan x="-0.3" y="0.0" font-size="50">H</tspan><tspan x="40.8" y="0.0" font-size="50">N</tspan><tspan x="82.7" y="0.0" font-size="50">O</tspan><tspan x="123.9" y="7.0" font-size="33">3</tspan><tspan x="142.5" y="5.0" font-size="46.3">＋</tspan><tspan x="193.5" y="0.0" font-size="50">O</tspan><tspan x="235.0" y="7.0" font-size="33">2</tspan><tspan x="254.4" y="0.0" font-size="50">N</tspan><tspan x="296.3" y="0.0" font-size="50">O</tspan><tspan x="338.8" y="0.0" font-size="50">O</tspan><tspan x="380.8" y="0.0" font-size="50">H</tspan></text>
</svg>
</body></html>
